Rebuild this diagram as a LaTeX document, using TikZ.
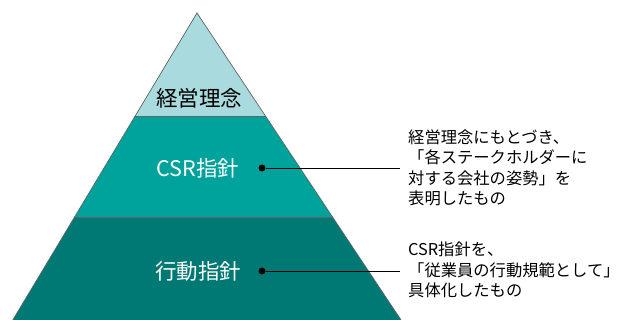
\documentclass[tikz,border=0pt]{standalone}
\usepackage{fontspec}
\setmainfont{Noto Sans CJK JP}
\usetikzlibrary{positioning}

\definecolor{philcol}{HTML}{A9DADD}
\definecolor{csrcol}{HTML}{00A39B}
\definecolor{actcol}{HTML}{007874}
\definecolor{edgecol}{HTML}{5E6566}

\begin{document}
\begin{tikzpicture}[x=1pt, y=-1pt,
        tier/.style={font=\fontsize{21.5}{25}\selectfont, inner sep=0pt},
        note/.style={font=\fontsize{16.3}{20.5}\selectfont, align=left, anchor=west, inner sep=0pt},
        dot/.style={circle, fill=black, inner sep=0pt, minimum size=7pt},
        link/.style={line width=0.9pt}]
    \useasboundingbox (0,0) rectangle (619,320);

    % pyramid corners
    \coordinate (apex) at (197,13);
    \coordinate (l1) at (134.6,117);  \coordinate (r1) at (266.1,117);
    \coordinate (l2) at (74,218);     \coordinate (r2) at (333.2,218);
    \coordinate (l3) at (12.8,320);   \coordinate (r3) at (401,320);

    \fill[philcol] (apex) -- (l1) -- (r1) -- cycle;
    \fill[csrcol]  (l1) -- (l2) -- (r2) -- (r1) -- cycle;
    \fill[actcol]  (l2) -- (l3) -- (r3) -- (r2) -- cycle;
    \draw[edgecol, line width=0.7pt] (l3) -- (apex) -- (r3);
    \draw[edgecol, line width=1pt] (l1) -- (r1);
    \draw[edgecol, line width=1pt] (l2) -- (r2);

    \node[tier]             (phil) at (199,98)  {経営理念};
    \node[tier, text=white] (csr)  at (198,168) {CSR指針};
    \node[tier, text=white] (act)  at (198,271) {行動指針};

    \node[dot] (d1) at (262,168) {};
    \node[dot] (d2) at (262,271) {};
    \coordinate (e1) at (400,168);
    \coordinate (e2) at (400,271);
    \draw[link] (d1) -- (e1);
    \draw[link] (d2) -- (e2);

    \node[note] (n1) at (408,168) {経営理念にもとづき、\\「各ステークホルダーに\\対する会社の姿勢」を\\表明したもの};
    \node[note] (n2) at (408,270) {CSR指針を、\\「従業員の行動規範として」\\具体化したもの};
\end{tikzpicture}
\end{document}
